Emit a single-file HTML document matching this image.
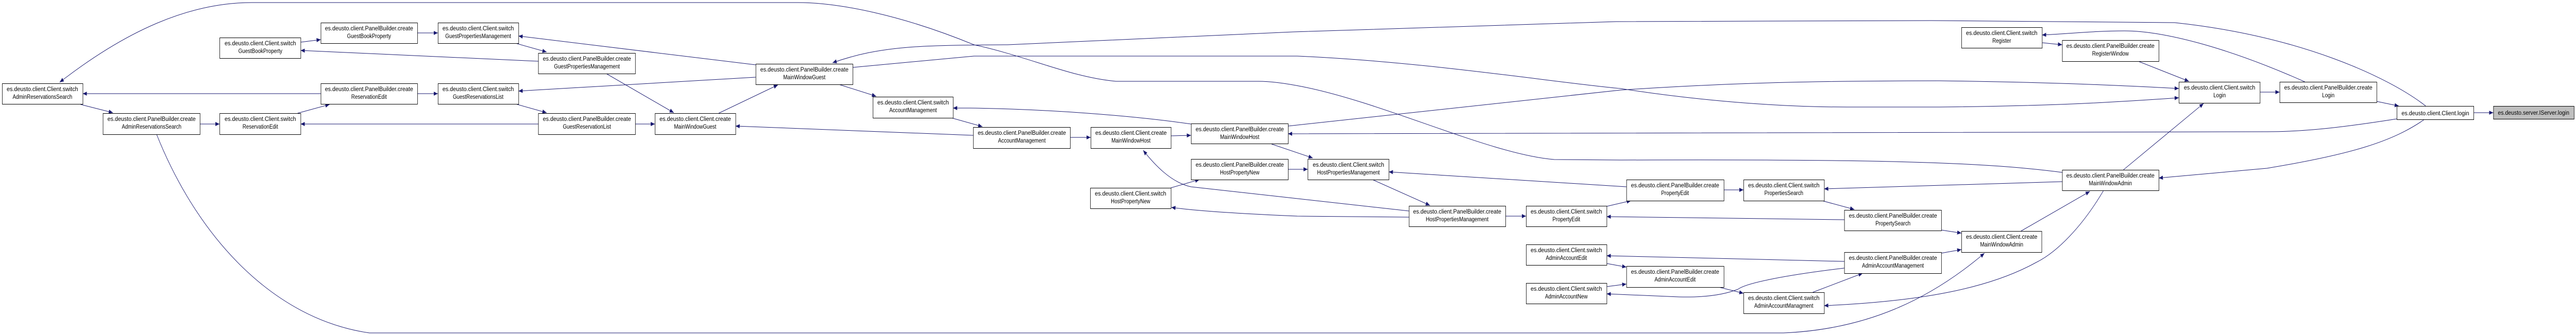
<!DOCTYPE html>
<html><head><meta charset="utf-8"><style>
html,body{margin:0;padding:0;background:#fff;width:100%;height:100%;overflow:hidden;}
svg{display:block;position:absolute;left:0;top:0;width:100vw;height:100vh;}
text{font-family:"Liberation Sans",Arial,sans-serif;font-size:12px;fill:#000;}
</style></head><body>
<svg viewBox="0 0 6136 651" preserveAspectRatio="none" xmlns="http://www.w3.org/2000/svg">
<defs>
<marker id="a" markerUnits="userSpaceOnUse" markerWidth="11" markerHeight="8" refX="10" refY="4" orient="auto">
<path d="M0,0 L10,4 L0,8 z" fill="#191970"/>
</marker>
</defs>
<g fill="none" stroke="#191970" stroke-width="1" marker-end="url(#a)">
<path d="M5892,219 L5939,219"/>
<path d="M5661,197 L5714,206"/>
<path d="M5383,179 L5430,179"/>
<path d="M5778,206 C5690,150 5480,70 5180,44 L4600,40 L3850,42 L3080,62 L2400,87 C2200,88 2100,88 1983,122"/>
<path d="M2031,131 L2320,109 L3090,109 C3400,120 3700,160 3860,172 C4000,190 4200,208 4400,208 L4620,208 C4900,206 5050,198 5190,190"/>
<path d="M4912,335 C4700,312 4400,310 3860,311 L3702,310 C3550,300 3300,200 3100,168 C3050,160 3020,158 2997,158 L2658,158 C2550,150 2450,110 2320,87 C2150,30 2000,5 1900,5 L600,5 C450,5 300,60 142,160"/>
<path d="M2837,241 C2700,225 2500,212 2310,210 L2270,210"/>
<path d="M2266,229 L2340,246"/>
<path d="M2318,263 L1752,245"/>
<path d="M2549,267 L2598,267"/>
<path d="M2789,264 L2837,263"/>
<path d="M3068,245 L3860,175 C4100,162 4300,157 4620,157 C4900,160 5050,166 5190,172"/>
<path d="M5709,231 C5600,245 5500,256 5400,256 L3068,260"/>
<path d="M3029,280 L3127,307"/>
<path d="M3068,329 L3115,329"/>
<path d="M2789,365 L2857,349"/>
<path d="M3356,410 L2837,363 C2790,355 2750,320 2723,292"/>
<path d="M3356,422 L3090,420 C2950,415 2850,410 2790,403"/>
<path d="M3269,349 L3406,399"/>
<path d="M3586,420 L3635,420"/>
<path d="M3874,363 L3308,334"/>
<path d="M3827,401 L3885,390"/>
<path d="M4393,427 L3827,421"/>
<path d="M4106,369 L4153,369"/>
<path d="M4340,390 L4417,407"/>
<path d="M4912,353 L4345,367"/>
<path d="M4393,508 L3827,497"/>
<path d="M3827,512 L3874,519"/>
<path d="M3827,557 L3874,552"/>
<path d="M4393,521 C4250,535 4160,550 4140,562 C4100,575 4050,578 4000,577 L3827,571"/>
<path d="M4094,558 L4153,570"/>
<path d="M4318,568 L4437,531"/>
<path d="M5010,371 C4960,440 4900,490 4850,510 C4750,555 4600,585 4345,594"/>
<path d="M4624,447 L4672,453"/>
<path d="M4624,492 L4672,485"/>
<path d="M373,261 C470,460 650,620 880,647 L4248,647 C4450,640 4600,580 4727,492"/>
<path d="M4814,449 L4978,372"/>
<path d="M5058,330 L5249,201"/>
<path d="M5775,232 C5700,275 5600,300 5400,327 L5142,346"/>
<path d="M5490,159 C5300,90 5150,60 5060,60 C4990,60 4920,66 4864,68"/>
<path d="M4864,83 L4912,87"/>
<path d="M5093,119 L5214,158"/>
<path d="M764,182 L197,182"/>
<path d="M192,203 L269,219"/>
<path d="M476,241 L523,241"/>
<path d="M1282,241 L716,241"/>
<path d="M709,220 L785,203"/>
<path d="M716,82 L764,77"/>
<path d="M1282,119 L716,98"/>
<path d="M994,64 L1043,64"/>
<path d="M1228,84 L1302,101"/>
<path d="M1800,126 L1235,70"/>
<path d="M1444,143 L1605,219"/>
<path d="M1800,150 L1235,177"/>
<path d="M994,182 L1043,182"/>
<path d="M1228,202 L1302,219"/>
<path d="M1513,241 L1560,241"/>
<path d="M1712,220 L1853,165"/>
<path d="M1998,164 L2087,187"/>
</g>
<g stroke="#000" stroke-width="1" fill="#fff">
<rect x="5.5" y="162.5" width="192" height="40"/>
<rect x="523.5" y="73.5" width="193" height="40"/>
<rect x="245.5" y="220.5" width="231" height="41"/>
<rect x="523.5" y="220.5" width="193" height="41"/>
<rect x="764.5" y="44.5" width="230" height="40"/>
<rect x="1043.5" y="44.5" width="192" height="40"/>
<rect x="1282.5" y="103.5" width="231" height="40"/>
<rect x="764.5" y="162.5" width="230" height="40"/>
<rect x="1043.5" y="162.5" width="192" height="40"/>
<rect x="1282.5" y="220.5" width="231" height="41"/>
<rect x="1800.5" y="124.5" width="231" height="40"/>
<rect x="1560.5" y="220.5" width="192" height="41"/>
<rect x="2079.5" y="188.5" width="191" height="41"/>
<rect x="2318.5" y="247.5" width="231" height="41"/>
<rect x="2598.5" y="247.5" width="191" height="41"/>
<rect x="2837.5" y="240.5" width="231" height="39"/>
<rect x="2837.5" y="309.5" width="231" height="40"/>
<rect x="2597.5" y="365.5" width="192" height="40"/>
<rect x="3115.5" y="309.5" width="193" height="40"/>
<rect x="3356.5" y="400.5" width="230" height="40"/>
<rect x="3635.5" y="400.5" width="192" height="40"/>
<rect x="3635.5" y="475.5" width="192" height="40"/>
<rect x="3635.5" y="550.5" width="192" height="40"/>
<rect x="3874.5" y="349.5" width="232" height="41"/>
<rect x="4153.5" y="349.5" width="192" height="41"/>
<rect x="4393.5" y="408.5" width="231" height="40"/>
<rect x="4393.5" y="490.5" width="231" height="41"/>
<rect x="3874.5" y="517.5" width="232" height="41"/>
<rect x="4153.5" y="568.5" width="192" height="41"/>
<rect x="4672.5" y="53.5" width="192" height="40"/>
<rect x="4912.5" y="78.5" width="230" height="41"/>
<rect x="5190.5" y="159.5" width="193" height="41"/>
<rect x="4912.5" y="330.5" width="230" height="40"/>
<rect x="4672.5" y="449.5" width="191" height="41"/>
<rect x="5430.5" y="159.5" width="231" height="40"/>
<rect x="5709.5" y="206.5" width="183" height="26"/>
<rect x="5939.5" y="206.5" width="192" height="25" fill="#bfbfbf"/>
</g>
<g text-anchor="middle">
<text x="101" y="177" textLength="170" lengthAdjust="spacingAndGlyphs">es.deusto.client.Client.switch</text><text x="101" y="192">AdminReservationsSearch</text>
<text x="620" y="88" textLength="170" lengthAdjust="spacingAndGlyphs">es.deusto.client.Client.switch</text><text x="620" y="103">GuestBookProperty</text>
<text x="361" y="235" textLength="210" lengthAdjust="spacingAndGlyphs">es.deusto.client.PanelBuilder.create</text><text x="361" y="250">AdminReservationsSearch</text>
<text x="620" y="235" textLength="170" lengthAdjust="spacingAndGlyphs">es.deusto.client.Client.switch</text><text x="620" y="250">ReservationEdit</text>
<text x="879" y="59" textLength="210" lengthAdjust="spacingAndGlyphs">es.deusto.client.PanelBuilder.create</text><text x="879" y="74">GuestBookProperty</text>
<text x="1139" y="59" textLength="170" lengthAdjust="spacingAndGlyphs">es.deusto.client.Client.switch</text><text x="1139" y="74">GuestPropertiesManagement</text>
<text x="1398" y="118" textLength="210" lengthAdjust="spacingAndGlyphs">es.deusto.client.PanelBuilder.create</text><text x="1398" y="133">GuestPropertiesManagement</text>
<text x="879" y="177" textLength="210" lengthAdjust="spacingAndGlyphs">es.deusto.client.PanelBuilder.create</text><text x="879" y="192">ReservationEdit</text>
<text x="1139" y="177" textLength="170" lengthAdjust="spacingAndGlyphs">es.deusto.client.Client.switch</text><text x="1139" y="192">GuestReservationsList</text>
<text x="1398" y="235" textLength="210" lengthAdjust="spacingAndGlyphs">es.deusto.client.PanelBuilder.create</text><text x="1398" y="250">GuestReservationList</text>
<text x="1916" y="139" textLength="210" lengthAdjust="spacingAndGlyphs">es.deusto.client.PanelBuilder.create</text><text x="1916" y="154">MainWindowGuest</text>
<text x="1656" y="235" textLength="170" lengthAdjust="spacingAndGlyphs">es.deusto.client.Client.create</text><text x="1656" y="250">MainWindowGuest</text>
<text x="2175" y="203" textLength="170" lengthAdjust="spacingAndGlyphs">es.deusto.client.Client.switch</text><text x="2175" y="218">AccountManagement</text>
<text x="2434" y="262" textLength="210" lengthAdjust="spacingAndGlyphs">es.deusto.client.PanelBuilder.create</text><text x="2434" y="277">AccountManagement</text>
<text x="2694" y="262" textLength="170" lengthAdjust="spacingAndGlyphs">es.deusto.client.Client.create</text><text x="2694" y="277">MainWindowHost</text>
<text x="2953" y="255" textLength="210" lengthAdjust="spacingAndGlyphs">es.deusto.client.PanelBuilder.create</text><text x="2953" y="270">MainWindowHost</text>
<text x="2953" y="324" textLength="210" lengthAdjust="spacingAndGlyphs">es.deusto.client.PanelBuilder.create</text><text x="2953" y="339">HostPropertyNew</text>
<text x="2693" y="380" textLength="170" lengthAdjust="spacingAndGlyphs">es.deusto.client.Client.switch</text><text x="2693" y="395">HostPropertyNew</text>
<text x="3212" y="324" textLength="170" lengthAdjust="spacingAndGlyphs">es.deusto.client.Client.switch</text><text x="3212" y="339">HostPropertiesManagement</text>
<text x="3471" y="415" textLength="210" lengthAdjust="spacingAndGlyphs">es.deusto.client.PanelBuilder.create</text><text x="3471" y="430">HostPropertiesManagement</text>
<text x="3731" y="415" textLength="170" lengthAdjust="spacingAndGlyphs">es.deusto.client.Client.switch</text><text x="3731" y="430">PropertyEdit</text>
<text x="3731" y="490" textLength="170" lengthAdjust="spacingAndGlyphs">es.deusto.client.Client.switch</text><text x="3731" y="505">AdminAccountEdit</text>
<text x="3731" y="565" textLength="170" lengthAdjust="spacingAndGlyphs">es.deusto.client.Client.switch</text><text x="3731" y="580">AdminAccountNew</text>
<text x="3990" y="364" textLength="210" lengthAdjust="spacingAndGlyphs">es.deusto.client.PanelBuilder.create</text><text x="3990" y="379">PropertyEdit</text>
<text x="4249" y="364" textLength="170" lengthAdjust="spacingAndGlyphs">es.deusto.client.Client.switch</text><text x="4249" y="379">PropertiesSearch</text>
<text x="4509" y="423" textLength="210" lengthAdjust="spacingAndGlyphs">es.deusto.client.PanelBuilder.create</text><text x="4509" y="438">PropertySearch</text>
<text x="4509" y="505" textLength="210" lengthAdjust="spacingAndGlyphs">es.deusto.client.PanelBuilder.create</text><text x="4509" y="520">AdminAccountManagement</text>
<text x="3990" y="532" textLength="210" lengthAdjust="spacingAndGlyphs">es.deusto.client.PanelBuilder.create</text><text x="3990" y="547">AdminAccountEdit</text>
<text x="4249" y="583" textLength="170" lengthAdjust="spacingAndGlyphs">es.deusto.client.Client.switch</text><text x="4249" y="598">AdminAccountManagment</text>
<text x="4768" y="68" textLength="170" lengthAdjust="spacingAndGlyphs">es.deusto.client.Client.switch</text><text x="4768" y="83">Register</text>
<text x="5027" y="93" textLength="210" lengthAdjust="spacingAndGlyphs">es.deusto.client.PanelBuilder.create</text><text x="5027" y="108">RegisterWindow</text>
<text x="5287" y="174" textLength="170" lengthAdjust="spacingAndGlyphs">es.deusto.client.Client.switch</text><text x="5287" y="189">Login</text>
<text x="5027" y="345" textLength="210" lengthAdjust="spacingAndGlyphs">es.deusto.client.PanelBuilder.create</text><text x="5027" y="360">MainWindowAdmin</text>
<text x="4768" y="464" textLength="170" lengthAdjust="spacingAndGlyphs">es.deusto.client.Client.create</text><text x="4768" y="479">MainWindowAdmin</text>
<text x="5546" y="174" textLength="210" lengthAdjust="spacingAndGlyphs">es.deusto.client.PanelBuilder.create</text><text x="5546" y="189">Login</text>
<text x="5801" y="224" textLength="161" lengthAdjust="spacingAndGlyphs">es.deusto.client.Client.login</text>
<text x="6035" y="223" textLength="170" lengthAdjust="spacingAndGlyphs">es.deusto.server.IServer.login</text>
</g>
</svg>
</body></html>
